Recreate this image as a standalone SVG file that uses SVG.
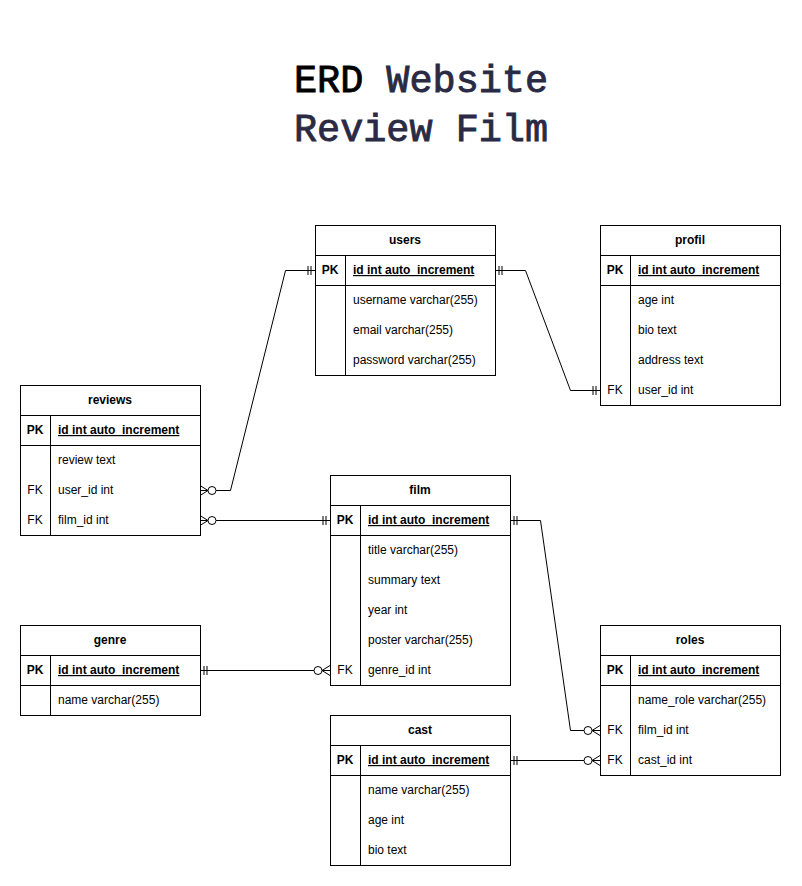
<svg xmlns="http://www.w3.org/2000/svg" width="802" height="886" viewBox="0 0 802 886">
<style>
.box{fill:#fff;stroke:#000;stroke-width:1}
.ln{stroke:#000;stroke-width:1;fill:none}
.hd{font-family:"Liberation Sans",Arial,sans-serif;font-size:12px;font-weight:bold;text-anchor:middle;fill:#000}
.k{font-family:"Liberation Sans",Arial,sans-serif;font-size:12px;text-anchor:middle;fill:#000}
.kb{font-family:"Liberation Sans",Arial,sans-serif;font-size:12px;font-weight:bold;text-anchor:middle;fill:#000}
.f{font-family:"Liberation Sans",Arial,sans-serif;font-size:12px;fill:#000}
.fb{font-family:"Liberation Sans",Arial,sans-serif;font-size:12px;font-weight:bold;text-decoration:underline;fill:#000}
.title{font-family:"Liberation Mono","DejaVu Sans Mono",monospace;font-size:38.5px;font-weight:normal;text-anchor:middle;stroke-width:0.9}
.conn{stroke:#000;stroke-width:1;fill:none}
.c1{marker-start:url(#zmany);marker-end:url(#one)}
.c2{marker-start:url(#one);marker-end:url(#one)}
.c3{marker-start:url(#one);marker-end:url(#zmany)}
</style>
<defs>
<marker id="one" markerUnits="userSpaceOnUse" viewBox="-20 -10 20 20" refX="0" refY="0" markerWidth="20" markerHeight="20" orient="auto-start-reverse" overflow="visible">
<path d="M-7,-4.5V4.5M-4,-4.5V4.5" stroke="#000" stroke-width="1" fill="none"/>
</marker>
<marker id="zmany" markerUnits="userSpaceOnUse" viewBox="-20 -10 20 20" refX="0" refY="0" markerWidth="20" markerHeight="20" orient="auto-start-reverse" overflow="visible">
<path d="M0,-5L-8,0L0,5M0,0H-8" stroke="#000" stroke-width="1" fill="none"/>
<circle cx="-12" cy="0" r="4" fill="#fff" stroke="#000" stroke-width="1"/>
</marker>
</defs>
<rect width="802" height="886" fill="#fff"/>
<g id="title">
<text class="title" x="421" y="92"><tspan fill="#000" stroke="#000">ERD</tspan><tspan fill="#2a2a44" stroke="#2a2a44"> Website</tspan></text>
<text class="title" x="421" y="141" fill="#2a2a44" stroke="#2a2a44">Review Film</text>
</g>
<g id="connectors">
<path class="conn c1" d="M200,490.5H230.5L285.5,270.5H315"/>
<path class="conn c2" d="M495,270.5H525.5L570.5,390.5H600"/>
<path class="conn c1" d="M200,520.5H330"/>
<path class="conn c3" d="M200,670.5H330"/>
<path class="conn c3" d="M510,520.5H540.5L570.5,730.5H600"/>
<path class="conn c3" d="M510,760.5H600"/>
</g>
<g id="users">
<rect class="box" x="315.5" y="225.5" width="180" height="150"/>
<path class="ln" d="M315.5,255.5H495.5M315.5,285.5H495.5M345.5,255.5V375.5"/>
<text class="hd" x="405" y="244">users</text>
<text class="kb" x="330" y="274">PK</text>
<text class="fb" x="353" y="274">id int auto_increment</text>
<text class="f" x="353" y="304">username varchar(255)</text>
<text class="f" x="353" y="334">email varchar(255)</text>
<text class="f" x="353" y="364">password varchar(255)</text>
</g>
<g id="profil">
<rect class="box" x="600.5" y="225.5" width="180" height="180"/>
<path class="ln" d="M600.5,255.5H780.5M600.5,285.5H780.5M630.5,255.5V405.5"/>
<text class="hd" x="690" y="244">profil</text>
<text class="kb" x="615" y="274">PK</text>
<text class="fb" x="638" y="274">id int auto_increment</text>
<text class="f" x="638" y="304">age int</text>
<text class="f" x="638" y="334">bio text</text>
<text class="f" x="638" y="364">address text</text>
<text class="k" x="615" y="394">FK</text>
<text class="f" x="638" y="394">user_id int</text>
</g>
<g id="reviews">
<rect class="box" x="20.5" y="385.5" width="180" height="150"/>
<path class="ln" d="M20.5,415.5H200.5M20.5,445.5H200.5M50.5,415.5V535.5"/>
<text class="hd" x="110" y="404">reviews</text>
<text class="kb" x="35" y="434">PK</text>
<text class="fb" x="58" y="434">id int auto_increment</text>
<text class="f" x="58" y="464">review text</text>
<text class="k" x="35" y="494">FK</text>
<text class="f" x="58" y="494">user_id int</text>
<text class="k" x="35" y="524">FK</text>
<text class="f" x="58" y="524">film_id int</text>
</g>
<g id="film">
<rect class="box" x="330.5" y="475.5" width="180" height="210"/>
<path class="ln" d="M330.5,505.5H510.5M330.5,535.5H510.5M360.5,505.5V685.5"/>
<text class="hd" x="420" y="494">film</text>
<text class="kb" x="345" y="524">PK</text>
<text class="fb" x="368" y="524">id int auto_increment</text>
<text class="f" x="368" y="554">title varchar(255)</text>
<text class="f" x="368" y="584">summary text</text>
<text class="f" x="368" y="614">year int</text>
<text class="f" x="368" y="644">poster varchar(255)</text>
<text class="k" x="345" y="674">FK</text>
<text class="f" x="368" y="674">genre_id int</text>
</g>
<g id="genre">
<rect class="box" x="20.5" y="625.5" width="180" height="90"/>
<path class="ln" d="M20.5,655.5H200.5M20.5,685.5H200.5M50.5,655.5V715.5"/>
<text class="hd" x="110" y="644">genre</text>
<text class="kb" x="35" y="674">PK</text>
<text class="fb" x="58" y="674">id int auto_increment</text>
<text class="f" x="58" y="704">name varchar(255)</text>
</g>
<g id="roles">
<rect class="box" x="600.5" y="625.5" width="180" height="150"/>
<path class="ln" d="M600.5,655.5H780.5M600.5,685.5H780.5M630.5,655.5V775.5"/>
<text class="hd" x="690" y="644">roles</text>
<text class="kb" x="615" y="674">PK</text>
<text class="fb" x="638" y="674">id int auto_increment</text>
<text class="f" x="638" y="704">name_role varchar(255)</text>
<text class="k" x="615" y="734">FK</text>
<text class="f" x="638" y="734">film_id int</text>
<text class="k" x="615" y="764">FK</text>
<text class="f" x="638" y="764">cast_id int</text>
</g>
<g id="cast">
<rect class="box" x="330.5" y="715.5" width="180" height="150"/>
<path class="ln" d="M330.5,745.5H510.5M330.5,775.5H510.5M360.5,745.5V865.5"/>
<text class="hd" x="420" y="734">cast</text>
<text class="kb" x="345" y="764">PK</text>
<text class="fb" x="368" y="764">id int auto_increment</text>
<text class="f" x="368" y="794">name varchar(255)</text>
<text class="f" x="368" y="824">age int</text>
<text class="f" x="368" y="854">bio text</text>
</g>
</svg>
